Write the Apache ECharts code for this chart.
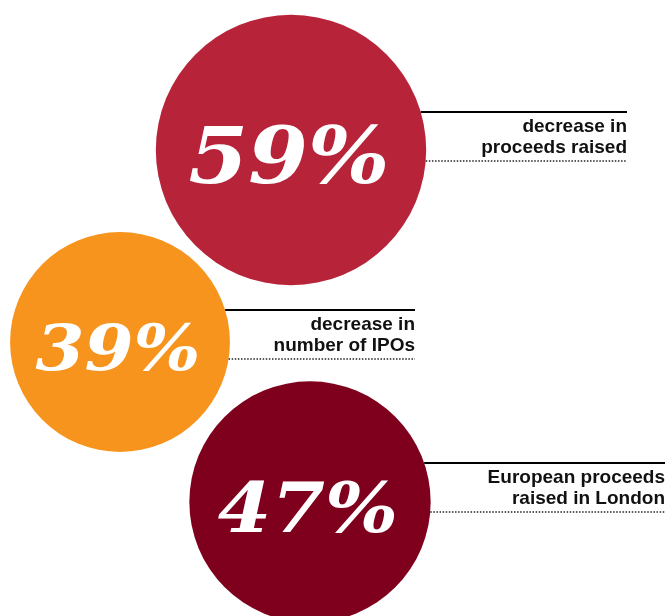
<!DOCTYPE html>
<html>
<head>
<meta charset="utf-8">
<script src="https://cdn.jsdelivr.net/npm/echarts@6/dist/echarts.min.js"></script>
<style>html,body{margin:0;padding:0;background:#fff}#c{width:666px;height:616px}</style>
</head>
<body>
<div id="c"></div>
<script>
// ---- data ----
const values = [59, 39, 47];
const captionLine1 = ['decrease in', 'decrease in', 'European proceeds'];
const captionLine2 = ['proceeds raised', 'number of IPOs', 'raised in London'];

// ---- layout (axis units = canvas units) ----
const centerX = [291, 120, 310];
const centerY = [150, 342, 502];
const ruleTop = [112, 310, 463];
const ruleRight = [627, 415, 665];
const colors = ['#B72338', '#F7941E', '#7F001D'];

// circle area proportional to value
function diameter(v) { return 35.2 * Math.sqrt(v); }

const chart = echarts.init(document.getElementById('c'), null, {renderer: 'canvas'});

const scatterData = values.map(function (v, i) {
  return {
    value: [centerX[i], centerY[i], v],
    itemStyle: {color: colors[i], opacity: 1}
  };
});

const annData = values.map(function (v, i) {
  return [centerX[i], centerY[i], v, ruleTop[i], ruleRight[i], i];
});

chart.setOption({
  animation: false,
  grid: {left: 0, right: 0, top: 0, bottom: 0},
  xAxis: {type: 'value', min: 0, max: 666, show: false},
  yAxis: {type: 'value', min: 0, max: 616, inverse: true, show: false},
  series: [
    {
      type: 'scatter',
      z: 2,
      silent: true,
      data: scatterData,
      symbol: 'circle',
      symbolSize: function (val) { return diameter(val[2]); },
      itemStyle: {opacity: 1},
      emphasis: {disabled: true}
    },
    {
      type: 'custom',
      z: 10,
      silent: true,
      data: annData,
      renderItem: function (params, api) {
        const c = api.coord([api.value(0), api.value(1)]);
        const v = api.value(2);
        const r = diameter(v) / 2;
        const top = api.coord([0, api.value(3)])[1];
        const right = api.coord([api.value(4), 0])[0];
        const idx = api.value(5);
        const dotY = top + 49;
        const edge = function (y) { const dy = y - c[1]; return c[0] + Math.sqrt(Math.max(0, r * r - dy * dy)); };
        const font = 'bold 19px "Liberation Sans", Arial, sans-serif';
        const fs = Math.round(r * 0.58);
        return {
          type: 'group',
          children: [
            {type: 'line', shape: {x1: edge(top), y1: top, x2: right, y2: top}, style: {stroke: '#000', lineWidth: 2}},
            {type: 'line', shape: {x1: edge(dotY), y1: dotY, x2: right, y2: dotY}, style: {stroke: '#222', lineWidth: 1.5, lineDash: [1.5, 1.6]}},
            {type: 'text', x: right, y: top + 15, style: {text: captionLine1[idx], fill: '#111', font: font, textAlign: 'right', textVerticalAlign: 'middle'}},
            {type: 'text', x: right, y: top + 36, style: {text: captionLine2[idx], fill: '#111', font: font, textAlign: 'right', textVerticalAlign: 'middle'}},
            {type: 'text', x: c[0] - 2, y: c[1] + 3 + 0.13 * fs, scaleX: 1.1,
              style: {text: v + '%', fill: '#fff', font: 'italic bold ' + fs + 'px "DejaVu Serif", serif', textAlign: 'center', textVerticalAlign: 'middle'}}
          ]
        };
      }
    }
  ]
});
</script>
</body>
</html>
